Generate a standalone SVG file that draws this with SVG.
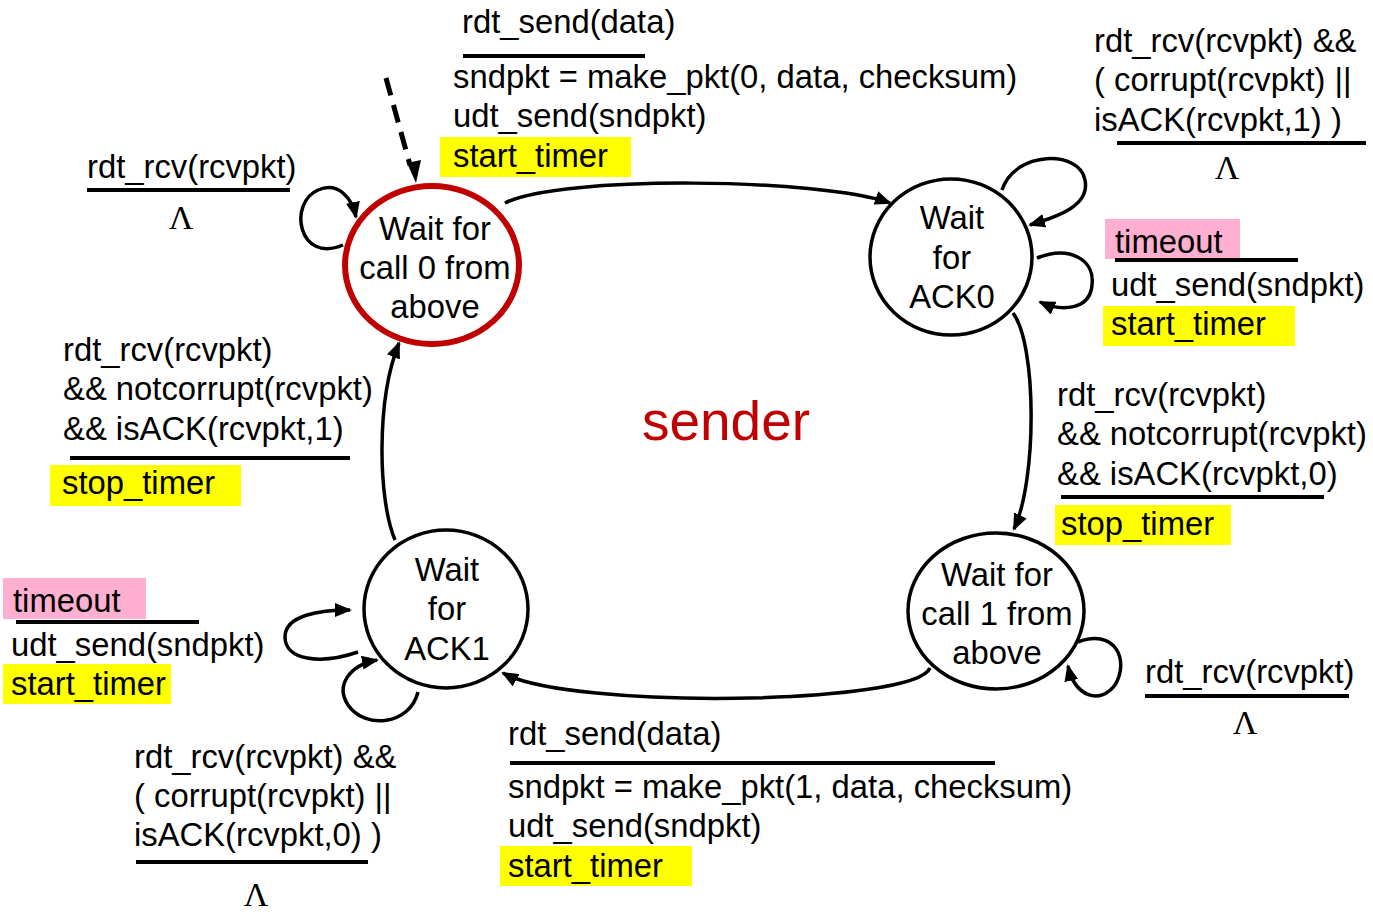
<svg xmlns="http://www.w3.org/2000/svg" width="1373" height="915" viewBox="0 0 1373 915">
<style>
text{font-family:"Liberation Sans",Arial,sans-serif;font-size:32.8px;fill:#000}
.st text{text-anchor:middle}
.lam{font-family:"Liberation Serif","Times New Roman",serif;font-size:34px;text-anchor:middle}
.ul{stroke:#000;stroke-width:4}
.yl{fill:#FFFF00}
.pk{fill:#FFB0D0}
.c{fill:none;stroke:#000;stroke-width:3.5;marker-end:url(#ah)}
.state{fill:#fff;stroke:#000;stroke-width:3.5}
</style>
<defs>
<marker id="ah" markerWidth="18" markerHeight="14" refX="15" refY="7" orient="auto" markerUnits="userSpaceOnUse">
<path d="M0,0 L17,7 L0,14 z" fill="#000"/>
</marker>
</defs>
<rect width="1373" height="915" fill="#fff"/>

<g id="connectors">
<path class="c" d="M505,203 C560,175 820,178 890,203"/>
<path class="c" d="M1013,313 C1037,345 1037,480 1014,529"/>
<path class="c" d="M930,668 C915,705 570,710 503,673"/>
<path class="c" d="M395,540 C378,500 376,400 399,343"/>
<path d="M386,78 L410,165" fill="none" stroke="#000" stroke-width="5" stroke-dasharray="18,10"/>
<path d="M407,163 L416,183 L421,160 z" fill="#000"/>
<path class="c" d="M343,245 C298,264 288,203 318,190 C338,181 352,198 356,217"/>
<path class="c" d="M1002,190 C1015,150 1080,150 1085,180 C1090,205 1060,216 1030,225"/>
<path class="c" d="M1037,258 C1070,245 1095,260 1092,285 C1090,310 1062,312 1040,302"/>
<path class="c" d="M358,652 C320,665 285,660 285,637 C285,615 320,610 350,610"/>
<path class="c" d="M418,692 C410,725 365,730 348,705 C335,685 350,665 377,660"/>
<path class="c" d="M1078,642 C1115,628 1130,660 1115,685 C1100,705 1075,697 1068,666"/>
</g>

<g id="s_call0" class="st">
<ellipse cx="432" cy="265" rx="87" ry="79" fill="#fff" stroke="#C00000" stroke-width="6"/>
<text x="435" y="240">Wait for</text>
<text x="435" y="279">call 0 from</text>
<text x="435" y="318">above</text>
</g>
<g id="s_ack0" class="st">
<ellipse class="state" cx="951" cy="257" rx="81" ry="78"/>
<text x="952" y="229">Wait</text>
<text x="952" y="269">for</text>
<text x="952" y="308">ACK0</text>
</g>
<g id="s_ack1" class="st">
<ellipse class="state" cx="446" cy="609" rx="82" ry="79"/>
<text x="447" y="581">Wait</text>
<text x="447" y="620">for</text>
<text x="447" y="660">ACK1</text>
</g>
<g id="s_call1" class="st">
<ellipse class="state" cx="996" cy="611" rx="88" ry="78"/>
<text x="997" y="586">Wait for</text>
<text x="997" y="625">call 1 from</text>
<text x="997" y="664">above</text>
</g>

<text x="726" y="440" style="font-size:55px;fill:#C00000;text-anchor:middle">sender</text>

<g id="lbl_top">
<text x="462" y="33">rdt_send(data)</text>
<line class="ul" x1="463" y1="56" x2="645" y2="56"/>
<text x="453" y="88">sndpkt = make_pkt(0, data, checksum)</text>
<text x="453" y="127">udt_send(sndpkt)</text>
<rect class="yl" x="440" y="137" width="191" height="40"/>
<text x="453" y="167">start_timer</text>
</g>

<g id="lbl_tl">
<text x="87" y="178">rdt_rcv(rcvpkt)</text>
<line class="ul" x1="87" y1="190" x2="290" y2="190"/>
<text class="lam" x="181" y="229">Λ</text>
</g>

<g id="lbl_left">
<text x="63" y="361">rdt_rcv(rcvpkt)</text>
<text x="63" y="400">&amp;&amp; notcorrupt(rcvpkt)</text>
<text x="63" y="440">&amp;&amp; isACK(rcvpkt,1)</text>
<line class="ul" x1="70" y1="458" x2="350" y2="458"/>
<rect class="yl" x="50" y="465" width="191" height="41"/>
<text x="62" y="494">stop_timer</text>
</g>

<g id="lbl_tr">
<text x="1094" y="52">rdt_rcv(rcvpkt) &amp;&amp;</text>
<text x="1094" y="91">( corrupt(rcvpkt) ||</text>
<text x="1094" y="131">isACK(rcvpkt,1) )</text>
<line class="ul" x1="1117" y1="143" x2="1366" y2="143"/>
<text class="lam" x="1227" y="179">Λ</text>
</g>

<g id="lbl_timeout0">
<rect class="pk" x="1105" y="219" width="135" height="40"/>
<text x="1115" y="253">timeout</text>
<line class="ul" x1="1115" y1="260" x2="1298" y2="260"/>
<text x="1111" y="296">udt_send(sndpkt)</text>
<rect class="yl" x="1103" y="306" width="192" height="40"/>
<text x="1111" y="335">start_timer</text>
</g>

<g id="lbl_right">
<text x="1057" y="406">rdt_rcv(rcvpkt)</text>
<text x="1057" y="445">&amp;&amp; notcorrupt(rcvpkt)</text>
<text x="1057" y="485">&amp;&amp; isACK(rcvpkt,0)</text>
<line class="ul" x1="1061" y1="497" x2="1324" y2="497"/>
<rect class="yl" x="1055" y="505" width="176" height="40"/>
<text x="1061" y="535">stop_timer</text>
</g>

<g id="lbl_br">
<text x="1145" y="683">rdt_rcv(rcvpkt)</text>
<line class="ul" x1="1145" y1="696" x2="1349" y2="696"/>
<text class="lam" x="1245" y="734">Λ</text>
</g>

<g id="lbl_bottom">
<text x="508" y="745">rdt_send(data)</text>
<line class="ul" x1="510" y1="763" x2="995" y2="763"/>
<text x="508" y="798">sndpkt = make_pkt(1, data, checksum)</text>
<text x="508" y="837">udt_send(sndpkt)</text>
<rect class="yl" x="500" y="846" width="192" height="40"/>
<text x="508" y="877">start_timer</text>
</g>

<g id="lbl_timeout1">
<rect class="pk" x="3" y="578" width="143" height="41"/>
<text x="13" y="612">timeout</text>
<line class="ul" x1="16" y1="622" x2="199" y2="622"/>
<text x="11" y="656">udt_send(sndpkt)</text>
<rect class="yl" x="3" y="664" width="168" height="40"/>
<text x="11" y="695">start_timer</text>
</g>

<g id="lbl_bl">
<text x="134" y="768">rdt_rcv(rcvpkt) &amp;&amp;</text>
<text x="134" y="807">( corrupt(rcvpkt) ||</text>
<text x="134" y="846">isACK(rcvpkt,0) )</text>
<line class="ul" x1="136" y1="862" x2="368" y2="862"/>
<text class="lam" x="256" y="906">Λ</text>
</g>
</svg>
